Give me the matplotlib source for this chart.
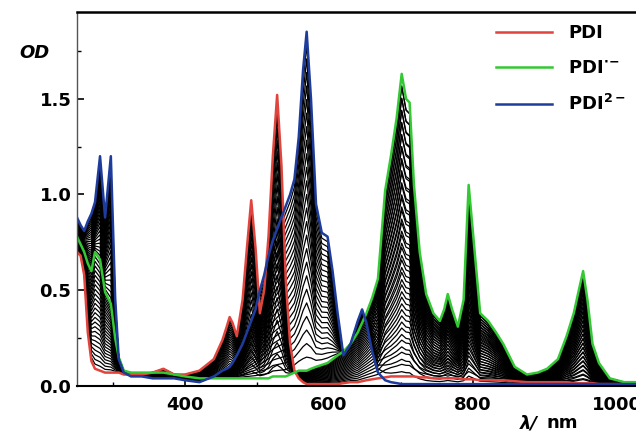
import numpy as np
import matplotlib.pyplot as plt

# wavelength grid (nm) shared by all spectra
wavelength = [250, 255, 260, 265, 270, 275, 282, 289, 297, 303,
              308, 315, 325, 340, 355, 370, 385, 400, 420,
              440, 452, 458, 462, 466, 472, 480, 486, 492, 498,
              504, 510, 516, 522, 528, 534, 540, 546, 552, 558,
              564, 569, 575, 582, 590, 598, 605, 612, 620, 630,
              640, 646, 652, 660, 668, 678, 686, 694, 701, 707,
              712, 718, 726, 735, 745, 754, 760, 765, 771, 779,
              787, 794, 800, 810, 821, 832, 842, 858, 875, 890,
              903, 918, 930, 940, 947, 953, 959, 966, 975, 990,
              1010, 1030]

od_pdi = [0.70, 0.68, 0.58, 0.28, 0.13, 0.09, 0.08, 0.07, 0.07, 0.07,
          0.07, 0.06, 0.06, 0.06, 0.07, 0.09, 0.06, 0.06, 0.08,
          0.14, 0.24, 0.31, 0.36, 0.33, 0.26, 0.45, 0.72, 0.97, 0.72,
          0.38, 0.50, 0.78, 1.20, 1.52, 1.15, 0.55, 0.22, 0.08, 0.04,
          0.02, 0.01, 0.01, 0.01, 0.01, 0.01, 0.01, 0.01, 0.015, 0.02,
          0.02, 0.025, 0.03, 0.035, 0.04, 0.045, 0.05, 0.05, 0.05, 0.05,
          0.05, 0.05, 0.045, 0.045, 0.04, 0.04, 0.04, 0.04, 0.04, 0.04,
          0.035, 0.035, 0.035, 0.03, 0.03, 0.03, 0.03, 0.025, 0.02, 0.02,
          0.02, 0.02, 0.02, 0.015, 0.015, 0.015, 0.015, 0.015, 0.01, 0.01,
          0.01, 0.01]

od_anion = [0.78, 0.74, 0.70, 0.64, 0.60, 0.70, 0.66, 0.49, 0.43, 0.25,
            0.15, 0.08, 0.07, 0.07, 0.07, 0.07, 0.06, 0.05, 0.04,
            0.04, 0.04, 0.04, 0.04, 0.04, 0.04, 0.04, 0.04, 0.04, 0.04,
            0.04, 0.04, 0.04, 0.05, 0.05, 0.05, 0.05, 0.06, 0.07, 0.08,
            0.08, 0.08, 0.09, 0.10, 0.11, 0.12, 0.14, 0.16, 0.18, 0.22,
            0.28, 0.33, 0.38, 0.46, 0.56, 1.02, 1.20, 1.40, 1.63, 1.50,
            1.48, 1.05, 0.70, 0.48, 0.38, 0.34, 0.40, 0.48, 0.40, 0.31,
            0.45, 1.05, 0.80, 0.38, 0.34, 0.28, 0.22, 0.10, 0.06, 0.07,
            0.09, 0.14, 0.26, 0.38, 0.50, 0.60, 0.45, 0.22, 0.12, 0.04,
            0.02, 0.02]

od_dianion = [0.88, 0.84, 0.81, 0.86, 0.90, 0.96, 1.20, 0.88, 1.20, 0.46,
              0.14, 0.07, 0.05, 0.05, 0.04, 0.04, 0.04, 0.03, 0.02,
              0.05, 0.08, 0.09, 0.10, 0.12, 0.16, 0.22, 0.28, 0.34, 0.40,
              0.50, 0.58, 0.68, 0.76, 0.82, 0.88, 0.94, 1.00, 1.08, 1.30,
              1.65, 1.85, 1.50, 0.95, 0.80, 0.78, 0.60, 0.38, 0.16, 0.22,
              0.34, 0.40, 0.33, 0.18, 0.07, 0.03, 0.02, 0.015, 0.01, 0.01,
              0.01, 0.01, 0.01, 0.01, 0.01, 0.01, 0.01, 0.01, 0.01, 0.01,
              0.01, 0.01, 0.01, 0.01, 0.01, 0.01, 0.01, 0.01, 0.01, 0.01,
              0.01, 0.01, 0.01, 0.01, 0.01, 0.01, 0.01, 0.01, 0.01, 0.01,
              0.01, 0.01]

# conversion fractions of the recorded intermediate spectra
step1_fraction = [0.04, 0.08, 0.12, 0.16, 0.20, 0.24, 0.28, 0.32, 0.36, 0.40,
                  0.44, 0.48, 0.52, 0.56, 0.60, 0.64, 0.68, 0.72, 0.76, 0.80,
                  0.84, 0.88, 0.92, 0.96]
step2_fraction = [0.04, 0.08, 0.12, 0.16, 0.20, 0.24, 0.28, 0.32, 0.36, 0.40,
                  0.44, 0.48, 0.52, 0.56, 0.60, 0.64, 0.68, 0.72, 0.76, 0.80,
                  0.84, 0.88, 0.92, 0.96]

labels = ['PDI', r'PDI$^{\bullet\!-}$', r'PDI$^{2-}$']
colors = ['#e0443c', '#34c834', '#1e3c9c']

wl = np.array(wavelength)
red = np.array(od_pdi)
green = np.array(od_anion)
blue = np.array(od_dianion)

plt.rcParams['font.weight'] = 'bold'
plt.rcParams['font.size'] = 13

fig = plt.figure(figsize=(6.36, 4.33), dpi=100)
ax = fig.add_axes([77/636, 1 - 386/433, 563/636, 374/433])

# intermediate spectra in black
for f in step1_fraction:
    ax.plot(wl, (1 - f) * red + f * green, color='black', lw=0.9)
for f in step2_fraction:
    ax.plot(wl, (1 - f) * green + f * blue, color='black', lw=0.9)

for spec, lab, c in zip([red, green, blue], labels, colors):
    ax.plot(wl, spec, color=c, lw=1.8, label=lab)

ax.set_xlim(250, 1032)
ax.set_ylim(0, 1.953)
ax.set_xticks([400, 600, 800, 1000])
ax.set_xticks([300, 500, 700, 900], minor=True)
ax.set_yticks([0.0, 0.5, 1.0, 1.5])
ax.set_yticks([0.25, 0.75, 1.25, 1.75], minor=True)
ax.yaxis.set_major_formatter(plt.FormatStrFormatter('%.1f'))
ax.tick_params(which='both', direction='in')
ax.tick_params(which='major', length=5, width=1.2)
ax.tick_params(which='minor', length=3, width=1.0)
ax.tick_params(axis='x', pad=7)
ax.tick_params(axis='y', pad=4)

ax.spines['right'].set_visible(False)
ax.spines['top'].set_linewidth(1.8)
ax.spines['bottom'].set_linewidth(1.5)
ax.spines['left'].set_linewidth(1.0)
ax.spines['left'].set_color('#555555')

fig.text(34/636, 1 - 53/433, 'OD', style='italic', weight='bold',
         ha='center', va='center')
fig.text(520/636, 1 - 423/433, 'λ/', style='italic', weight='bold',
         ha='left', va='center')
fig.text(547/636, 1 - 423/433, 'nm', weight='bold', ha='left', va='center')

ax.legend(loc='upper left', bbox_to_anchor=(496/636, 1 - 24/433),
          bbox_transform=fig.transFigure, frameon=False, borderpad=0,
          borderaxespad=0, handlelength=3.1, handletextpad=0.9,
          labelspacing=0.95)

fig.savefig('out.png', dpi=100)
